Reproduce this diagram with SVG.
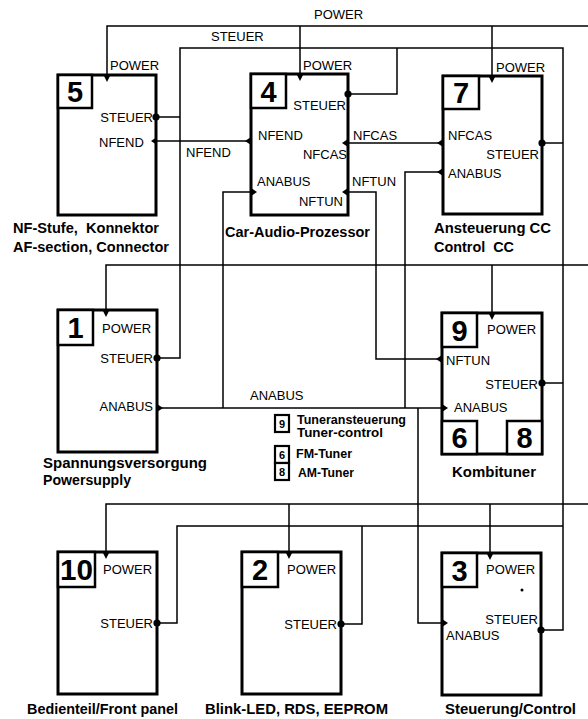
<svg xmlns="http://www.w3.org/2000/svg" xmlns:xlink="http://www.w3.org/1999/xlink" width="588" height="719" viewBox="0 0 588 719">
<style>
.box{fill:none;stroke:#000;stroke-width:3}
.nbox{fill:#fff;stroke:#000;stroke-width:2.5}
.lgbox{fill:#fff;stroke:#000;stroke-width:2.2}
.wire{fill:none;stroke:#000;stroke-width:1.5}
.lbl{font-family:"Liberation Sans",Arial,sans-serif;font-size:13px;fill:#000}
.end{text-anchor:end}
.ttl{font-family:"Liberation Sans",Arial,sans-serif;font-size:14.5px;font-weight:bold;fill:#000}
.num{font-family:"Liberation Sans",Arial,sans-serif;font-size:29px;font-weight:bold;fill:#000;text-anchor:middle}
.lgn{font-family:"Liberation Sans",Arial,sans-serif;font-size:11px;font-weight:bold;fill:#000;text-anchor:middle}
.lgt{font-family:"Liberation Sans",Arial,sans-serif;font-size:12.5px;font-weight:bold;fill:#000}
</style>
<defs>
<polygon id="td" points="-3.5,0 3.5,0 0,7" fill="#000"/>
<polygon id="tl" points="0,-4 0,4 -6,0" fill="#000"/>
<polygon id="tr" points="0,-4 0,4 6,0" fill="#000"/>
<circle id="dot" r="3.6" fill="#000"/>
</defs>
<rect width="588" height="719" fill="#fff"/>

<g id="connectors">
<path class="wire" d="M107,75 V26 H588"/>
<path class="wire" d="M300,26 V74"/>
<path class="wire" d="M492,26 V76"/>
<path class="wire" d="M156,117 H180"/>
<path class="wire" d="M157,358 H180 V48 H563 V630 H541"/>
<path class="wire" d="M348,94 H397 V48"/>
<path class="wire" d="M542,143 H563"/>
<path class="wire" d="M542,383 H563"/>
<path class="wire" d="M157,623 H177 V526 H563"/>
<path class="wire" d="M341,624 H362 V526"/>
<path class="wire" d="M106,310 V265 H588"/>
<path class="wire" d="M492,265 V313"/>
<path class="wire" d="M106,552 V504 H588"/>
<path class="wire" d="M289,504 V552"/>
<path class="wire" d="M490,504 V553"/>
<path class="wire" d="M156,141 H251"/>
<path class="wire" d="M348,143 H443"/>
<path class="wire" d="M348,192 H376 V359 H442"/>
<path class="wire" d="M157,408 H442"/>
<path class="wire" d="M251,192 H223 V408"/>
<path class="wire" d="M443,172 H405 V408"/>
<path class="wire" d="M418,408 V623 H442"/>
<text class="lbl" x="314" y="19">POWER</text>
<text class="lbl" x="211" y="41">STEUER</text>
<text class="lbl" x="186" y="156.5">NFEND</text>
<text class="lbl" x="353" y="139.5">NFCAS</text>
<text class="lbl" x="352" y="186">NFTUN</text>
<text class="lbl" x="250" y="399.5">ANABUS</text>
</g>

<g id="node5">
<rect class="box" x="58" y="75" width="98" height="140"/>
<rect class="nbox" x="58" y="75" width="34" height="33"/>
<text class="num" x="75" y="102">5</text>
<use xlink:href="#td" x="107" y="75"/>
<use xlink:href="#dot" x="156" y="117"/>
<use xlink:href="#tl" x="157" y="141"/>
<text class="lbl" x="110" y="70">POWER</text>
<text class="lbl end" x="153" y="122">STEUER</text>
<text class="lbl" x="99" y="146.5">NFEND</text>
<text class="ttl" x="13" y="233" xml:space="preserve" textLength="146" lengthAdjust="spacingAndGlyphs">NF-Stufe,  Konnektor</text>
<text class="ttl" x="13" y="252" textLength="156" lengthAdjust="spacingAndGlyphs">AF-section, Connector</text>
</g>

<g id="node4">
<rect class="box" x="251" y="74" width="97" height="141"/>
<rect class="nbox" x="251" y="74" width="35" height="34"/>
<text class="num" x="268.5" y="101.5">4</text>
<use xlink:href="#td" x="300" y="74"/>
<use xlink:href="#dot" x="348" y="94"/>
<use xlink:href="#tl" x="251" y="141"/>
<use xlink:href="#tr" x="251" y="192"/>
<use xlink:href="#tl" x="348" y="143"/>
<use xlink:href="#tl" x="348" y="192"/>
<text class="lbl" x="303" y="70">POWER</text>
<text class="lbl end" x="346" y="110">STEUER</text>
<text class="lbl" x="258" y="140">NFEND</text>
<text class="lbl end" x="347" y="158.5">NFCAS</text>
<text class="lbl" x="257" y="186">ANABUS</text>
<text class="lbl end" x="343" y="206">NFTUN</text>
<text class="ttl" x="225" y="236.5" textLength="145" lengthAdjust="spacingAndGlyphs">Car-Audio-Prozessor</text>
</g>

<g id="node7">
<rect class="box" x="443" y="76" width="99" height="138"/>
<rect class="nbox" x="443" y="76" width="36" height="33"/>
<text class="num" x="461" y="103">7</text>
<use xlink:href="#td" x="492" y="76"/>
<use xlink:href="#tl" x="443" y="143"/>
<use xlink:href="#tl" x="443" y="172"/>
<use xlink:href="#dot" x="542" y="143"/>
<text class="lbl" x="496" y="72">POWER</text>
<text class="lbl" x="448" y="139.5">NFCAS</text>
<text class="lbl end" x="539" y="158.5">STEUER</text>
<text class="lbl" x="448" y="177.5">ANABUS</text>
<text class="ttl" x="434" y="233" textLength="117" lengthAdjust="spacingAndGlyphs">Ansteuerung CC</text>
<text class="ttl" x="434" y="252" xml:space="preserve" textLength="80" lengthAdjust="spacingAndGlyphs">Control  CC</text>
</g>

<g id="node1">
<rect class="box" x="58" y="310" width="99" height="142"/>
<rect class="nbox" x="58" y="310" width="35" height="35"/>
<text class="num" x="75.5" y="338">1</text>
<use xlink:href="#td" x="106" y="310"/>
<use xlink:href="#dot" x="157" y="358"/>
<use xlink:href="#tr" x="157" y="408"/>
<text class="lbl" x="102" y="332.5">POWER</text>
<text class="lbl end" x="153" y="362.5">STEUER</text>
<text class="lbl end" x="153" y="411">ANABUS</text>
<text class="ttl" x="43" y="467.5" textLength="164" lengthAdjust="spacingAndGlyphs">Spannungsversorgung</text>
<text class="ttl" x="43" y="485" textLength="88" lengthAdjust="spacingAndGlyphs">Powersupply</text>
</g>

<g id="node9">
<rect class="box" x="442" y="313" width="100" height="141"/>
<rect class="nbox" x="442" y="313" width="35" height="34"/>
<text class="num" x="459.5" y="340.5">9</text>
<rect class="nbox" x="442" y="421" width="35" height="33"/>
<text class="num" x="459.5" y="448">6</text>
<rect class="nbox" x="507" y="421" width="35" height="33"/>
<text class="num" x="524.5" y="448">8</text>
<use xlink:href="#td" x="492" y="313"/>
<use xlink:href="#tl" x="442" y="359"/>
<use xlink:href="#tr" x="442" y="408"/>
<use xlink:href="#dot" x="542" y="383"/>
<text class="lbl" x="487" y="333.5">POWER</text>
<text class="lbl" x="446" y="364.5">NFTUN</text>
<text class="lbl end" x="538" y="388.5">STEUER</text>
<text class="lbl" x="454" y="412">ANABUS</text>
<text class="ttl" x="452" y="476.5" textLength="84" lengthAdjust="spacingAndGlyphs">Kombituner</text>
</g>

<g id="legend">
<rect class="lgbox" x="275" y="415" width="14" height="17"/>
<text class="lgn" x="282" y="427.5">9</text>
<rect class="lgbox" x="275" y="446" width="14" height="17"/>
<text class="lgn" x="282" y="458.5">6</text>
<rect class="lgbox" x="275" y="463" width="14" height="17"/>
<text class="lgn" x="282" y="475.5">8</text>
<text class="lgt" x="297" y="424" textLength="109" lengthAdjust="spacingAndGlyphs">Tuneransteuerung</text>
<text class="lgt" x="297" y="437" textLength="86" lengthAdjust="spacingAndGlyphs">Tuner-control</text>
<text class="lgt" x="296" y="458" textLength="56" lengthAdjust="spacingAndGlyphs">FM-Tuner</text>
<text class="lgt" x="298" y="477" textLength="56" lengthAdjust="spacingAndGlyphs">AM-Tuner</text>
</g>

<g id="node10">
<rect class="box" x="58" y="552" width="99" height="142"/>
<rect class="nbox" x="58" y="552" width="37" height="35"/>
<text class="num" x="76.5" y="580" textLength="33" lengthAdjust="spacingAndGlyphs">10</text>
<use xlink:href="#td" x="106" y="552"/>
<use xlink:href="#dot" x="157" y="623"/>
<text class="lbl" x="103" y="573.5">POWER</text>
<text class="lbl end" x="153" y="627.5">STEUER</text>
<text class="ttl" x="27" y="714" textLength="151" lengthAdjust="spacingAndGlyphs">Bedienteil/Front panel</text>
</g>

<g id="node2">
<rect class="box" x="242" y="552" width="99" height="142"/>
<rect class="nbox" x="242" y="552" width="36" height="35"/>
<text class="num" x="260" y="580">2</text>
<use xlink:href="#td" x="289" y="552"/>
<use xlink:href="#dot" x="341" y="624"/>
<text class="lbl" x="287" y="573.5">POWER</text>
<text class="lbl end" x="337" y="628.5">STEUER</text>
<text class="ttl" x="205" y="714" textLength="183" lengthAdjust="spacingAndGlyphs">Blink-LED, RDS, EEPROM</text>
</g>

<g id="node3">
<rect class="box" x="442" y="553" width="99" height="142"/>
<rect class="nbox" x="442" y="553" width="35" height="34"/>
<text class="num" x="459.5" y="580.5">3</text>
<use xlink:href="#td" x="490" y="553"/>
<use xlink:href="#tr" x="442" y="623"/>
<use xlink:href="#dot" x="541" y="630"/>
<circle cx="522" cy="590" r="1.5" fill="#000"/>
<text class="lbl" x="486" y="573.5">POWER</text>
<text class="lbl end" x="538" y="623.5">STEUER</text>
<text class="lbl" x="446" y="640">ANABUS</text>
<text class="ttl" x="445" y="714" textLength="131" lengthAdjust="spacingAndGlyphs">Steuerung/Control</text>
</g>
</svg>
